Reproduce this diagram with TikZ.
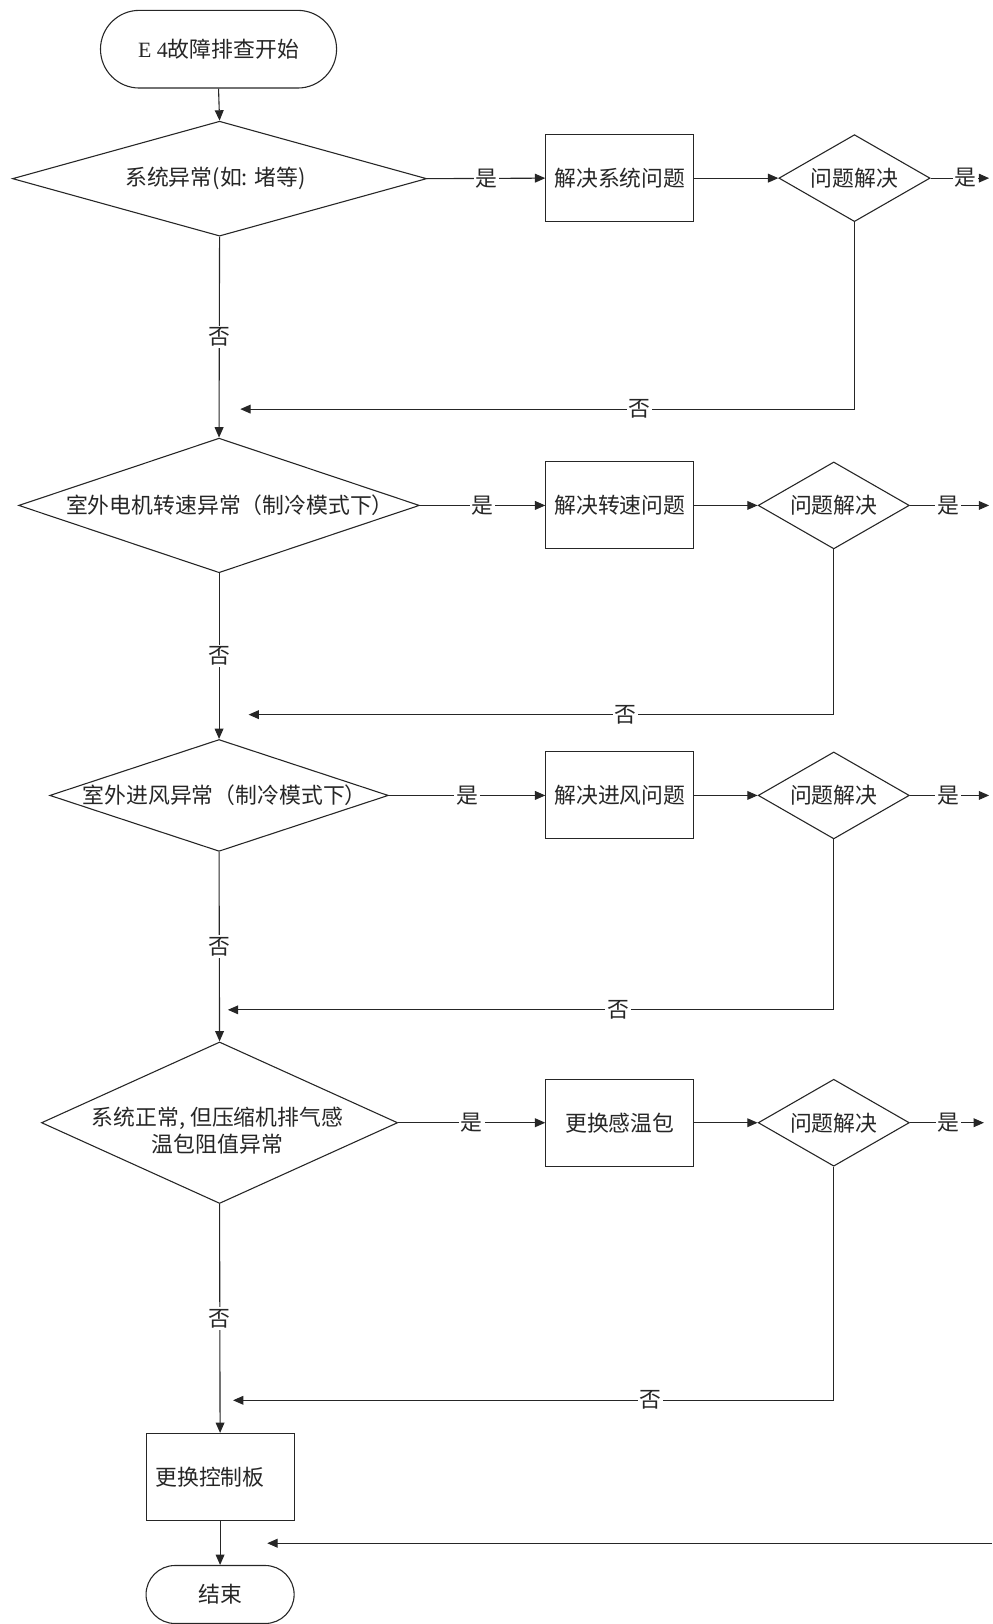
\documentclass[tikz,border=0pt]{standalone}
\usepackage{fontspec}
\newfontfamily\cjk{Noto Sans CJK SC}
\newfontfamily\latin{Liberation Serif}
\usetikzlibrary{shapes.geometric,arrows.meta}
\begin{document}
\begin{tikzpicture}[x=0.02cm,y=-0.02cm,
  every node/.style={font=\cjk\fontsize{12pt}{15pt}\selectfont, text=black!85},
  ln/.style={line width=0.6pt, draw=black!85},
  arr/.style={ln, -{Triangle[length=0.2cm,width=0.17cm]}},
  dia/.style={shape=diamond, draw=black!85, line width=0.6pt, inner sep=0pt},
  box/.style={rectangle, draw=black!85, line width=0.6pt, minimum width=2.86cm, minimum height=1.68cm, inner sep=0pt},
  term/.style={rectangle, draw=black!85, line width=0.6pt, inner sep=0pt},
  sdia/.style={dia, minimum width=2.92cm, minimum height=1.68cm},
  lab/.style={fill=white, inner sep=1pt}]
\useasboundingbox (0,0) rectangle (958,1568);

% start
\node[term, minimum width=4.56cm, minimum height=1.5cm, rounded corners=0.75cm] (start) at (211,47.5) {{\latin E}\hspace{0.25em}{\latin 4}故障排查开始};

% row 1
\node[dia, minimum width=8cm, minimum height=2.22cm] (d1) at (212,172.5) {};
\node (t1) at (208,172) {系统异常(如: 堵等)};
\node[box] (b1) at (598.5,172) {解决系统问题};
\node[sdia] (s1) at (825,172) {};
\node (u1) at (825,172) {问题解决};
\coordinate (y1) at (955,172);
\coordinate (r1) at (232,395);

% row 2
\node[dia, minimum width=7.74cm, minimum height=2.6cm] (d2) at (211.5,488) {};
\node (t2) at (222,488) {室外电机转速异常（制冷模式下）};
\node[box] (b2) at (598.5,488) {解决转速问题};
\node[sdia] (s2) at (805,488) {};
\node (u2) at (805,488) {问题解决};
\coordinate (y2) at (955,488);
\coordinate (r2) at (240,690);

% row 3
\node[dia, minimum width=6.54cm, minimum height=2.16cm] (d3) at (211.5,768) {};
\node (t3) at (217,768) {室外进风异常（制冷模式下）};
\node[box] (b3) at (598.5,768) {解决进风问题};
\node[sdia] (s3) at (805,768) {};
\node (u3) at (805,768) {问题解决};
\coordinate (y3) at (955,768);
\coordinate (r3) at (220,975);

% row 4
\node[dia, minimum width=6.88cm, minimum height=3.12cm] (d4) at (212,1084) {};
\node[align=center] (t4) at (210,1092) {系统正常, 但压缩机排气感\\温包阻值异常};
\node[box] (b4) at (598.5,1084) {更换感温包};
\node[sdia] (s4) at (805,1084) {};
\node (u4) at (805,1084) {问题解决};
\coordinate (y4) at (950,1084);
\coordinate (r4) at (225,1352);

% bottom
\node[box, text width=2.5cm, align=left, inner xsep=0.18cm] (b5) at (212.5,1426) {更换控制板};
\node[term, minimum width=2.86cm, minimum height=1.12cm, rounded corners=0.56cm] (end) at (212.5,1539.5) {结束};
\coordinate (rin) at (958,1490);
\coordinate (rend) at (258,1490);

% connectors
\draw[arr] (start.south) -- (d1.north);
\draw[arr] (d1.east) -- node[lab]{是} (b1.west);
\draw[arr] (b1.east) -- (s1.west);
\draw[arr] (s1.east) -- node[lab,pos=0.6]{是} (y1);
\draw[arr] (s1.south) -- (s1.south |- r1) -- node[lab,pos=0.35]{否} (r1);
\draw[arr] (d1.south) -- node[lab]{否} (d2.north);

\draw[arr] (d2.east) -- node[lab]{是} (b2.west);
\draw[arr] (b2.east) -- (s2.west);
\draw[arr] (s2.east) -- node[lab,pos=0.48]{是} (y2);
\draw[arr] (s2.south) -- (s2.south |- r2) -- node[lab,pos=0.356]{否} (r2);
\draw[arr] (d2.south) -- node[lab]{否} (d3.north);

\draw[arr] (d3.east) -- node[lab]{是} (b3.west);
\draw[arr] (b3.east) -- (s3.west);
\draw[arr] (s3.east) -- node[lab,pos=0.48]{是} (y3);
\draw[arr] (s3.south) -- (s3.south |- r3) -- node[lab,pos=0.356]{否} (r3);
\draw[arr] (d3.south) -- node[lab]{否} (d4.north);

\draw[arr] (d4.east) -- node[lab]{是} (b4.west);
\draw[arr] (b4.east) -- (s4.west);
\draw[arr] (s4.east) -- node[lab,pos=0.52]{是} (y4);
\draw[arr] (s4.south) -- (s4.south |- r4) -- node[lab,pos=0.305]{否} (r4);
\draw[arr] (d4.south) -- node[lab]{否} (b5.north);

\draw[arr] (b5.south) -- (end.north);
\draw[arr] (rin) -- (rend);
\end{tikzpicture}
\end{document}
